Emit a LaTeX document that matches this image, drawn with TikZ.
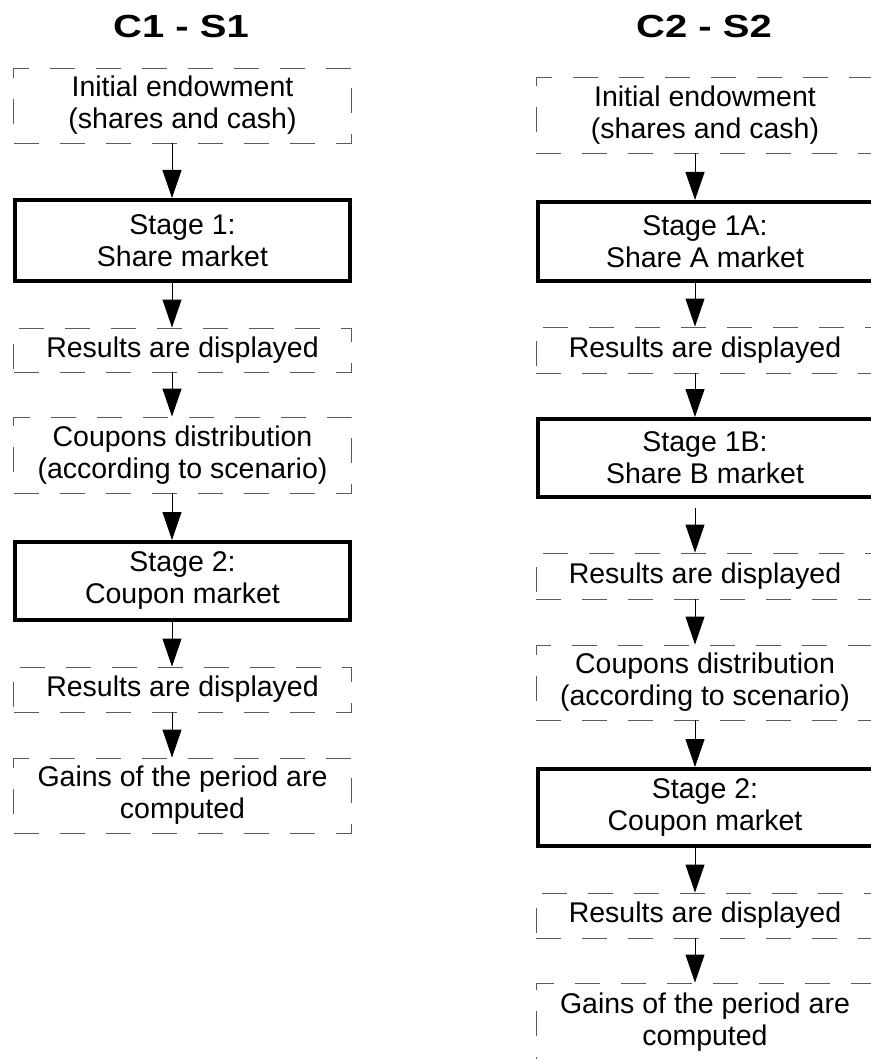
\documentclass[tikz,border=0pt]{standalone}
\usepackage{fontspec}
\setmainfont{Liberation Sans}
\newfontfamily\titlefont{Liberation Sans}[FakeStretch=1.25]
\usetikzlibrary{arrows.meta}

\begin{document}
\begin{tikzpicture}[x=1pt,y=-1pt,
        every node/.style={align=center,inner sep=0pt,font=\fontsize{28.5}{32}\selectfont},
        info/.style={draw=black!65,line width=0.9pt,dash pattern=on 25pt off 21pt,minimum width=338pt},
        market/.style={draw,line width=4pt,minimum width=335pt},
        title/.style={font=\titlefont\fontsize{32}{38}\selectfont\bfseries},
        flow/.style={line width=1pt,-{Triangle[length=28pt,width=19pt]}}]
        \useasboundingbox (0,0) rectangle (870,1059);

        \coordinate (axL) at (172,0);
        \coordinate (axR) at (695,0);

        \node[title] (tL) at (181,26) {C1 - S1};
        \node[title] (tR) at (704,26) {C2 - S2};

        \node[info,minimum height=75pt] (lInit) at (182.5,105.5) {Initial endowment\\(shares and cash)};
        \node[market,minimum height=81pt] (lShare) at (182.5,240.5) {Stage 1:\\Share market};
        \node[info,minimum height=44pt] (lRes1) at (182.5,350) {Results are displayed};
        \node[info,minimum height=76pt] (lCoupons) at (182.5,455) {Coupons distribution\\(according to scenario)};
        \node[market,minimum height=78pt] (lCoupMkt) at (182.5,581) {Stage 2:\\Coupon market};
        \node[info,minimum height=45pt] (lRes2) at (182.5,689.5) {Results are displayed};
        \node[info,minimum height=75pt] (lGains) at (182.5,795.5) {Gains of the period are\\computed};

        \node[info,minimum height=76pt] (rInit) at (705,115) {Initial endowment\\(shares and cash)};
        \node[market,minimum height=79pt] (rShareA) at (705,241.5) {Stage 1A:\\Share A market};
        \node[info,minimum height=46pt] (rRes1) at (705,350) {Results are displayed};
        \node[market,minimum height=78pt] (rShareB) at (705,458) {Stage 1B:\\Share B market};
        \node[info,minimum height=46pt] (rRes2) at (705,576) {Results are displayed};
        \node[info,minimum height=75pt] (rCoupons) at (705,682.5) {Coupons distribution\\(according to scenario)};
        \node[market,minimum height=77pt] (rCoupMkt) at (705,807.5) {Stage 2:\\Coupon market};
        \node[info,minimum height=45pt] (rRes3) at (705,915.5) {Results are displayed};
        \node[info,minimum height=78pt] (rGains) at (705,1022) {Gains of the period are\\computed};

        \draw[flow] (lInit.south -| axL) -- (lShare.north -| axL);
        \draw[flow] (lShare.south -| axL) -- (lRes1.north -| axL);
        \draw[flow] (lRes1.south -| axL) -- (lCoupons.north -| axL);
        \draw[flow] (lCoupons.south -| axL) -- (lCoupMkt.north -| axL);
        \draw[flow] (lCoupMkt.south -| axL) -- (lRes2.north -| axL);
        \draw[flow] (lRes2.south -| axL) -- (lGains.north -| axL);

        \draw[flow] (rInit.south -| axR) -- (rShareA.north -| axR);
        \draw[flow] (rShareA.south -| axR) -- (rRes1.north -| axR);
        \draw[flow] (rRes1.south -| axR) -- (rShareB.north -| axR);
        \draw[flow,shorten <=9pt] (rShareB.south -| axR) -- (rRes2.north -| axR);
        \draw[flow] (rRes2.south -| axR) -- (rCoupons.north -| axR);
        \draw[flow] (rCoupons.south -| axR) -- (rCoupMkt.north -| axR);
        \draw[flow] (rCoupMkt.south -| axR) -- (rRes3.north -| axR);
        \draw[flow] (rRes3.south -| axR) -- (rGains.north -| axR);
    \end{tikzpicture}
\end{document}
